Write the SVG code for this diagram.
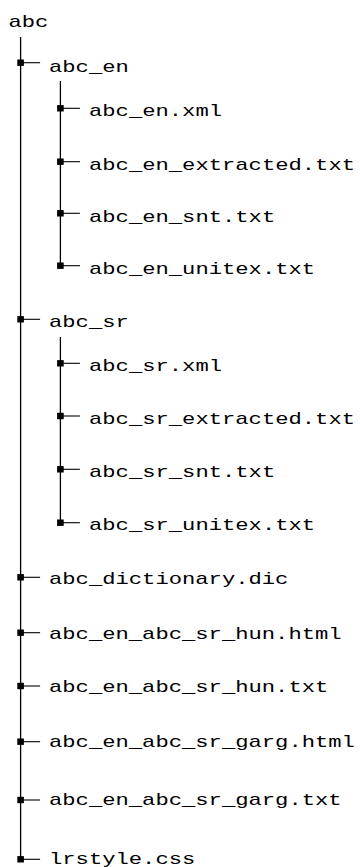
<svg xmlns="http://www.w3.org/2000/svg" width="360" height="867" viewBox="0 0 360 867">
  <style>
    .lbl { font-family: "Liberation Mono", "DejaVu Sans Mono", monospace; font-size: 17px; fill: #000; }
    .trunk { stroke: #000; stroke-width: 1.3; fill: none; }
    .twig { stroke: #000; stroke-width: 1.1; fill: none; }
    .knot { fill: #000; }
  </style>
  <defs>
    <!-- square knot where a branch leaves its trunk, plus the branch stub -->
    <g id="branch">
      <rect class="knot" x="-3.3" y="-3.2" width="6.6" height="6.4"/>
      <line class="twig" x1="0" y1="0" x2="19.5" y2="0"/>
    </g>
  </defs>

  <!-- connectors: trunks and branches -->
  <g id="connectors">
    <line class="trunk" x1="20.6" y1="37" x2="20.6" y2="860"/>
    <line class="trunk" x1="60.4" y1="81" x2="60.4" y2="266"/>
    <line class="trunk" x1="60.4" y1="337" x2="60.4" y2="523"/>

    <use href="#branch" x="20.6" y="62.7"/>
    <use href="#branch" x="60.4" y="108.3"/>
    <use href="#branch" x="60.4" y="161.7"/>
    <use href="#branch" x="60.4" y="213.3"/>
    <use href="#branch" x="60.4" y="265.7"/>
    <use href="#branch" x="20.6" y="319.3"/>
    <use href="#branch" x="60.4" y="363.3"/>
    <use href="#branch" x="60.4" y="416"/>
    <use href="#branch" x="60.4" y="469.3"/>
    <use href="#branch" x="60.4" y="522.7"/>
    <use href="#branch" x="20.6" y="577.3"/>
    <use href="#branch" x="20.6" y="632.7"/>
    <use href="#branch" x="20.6" y="686"/>
    <use href="#branch" x="20.6" y="741.7"/>
    <use href="#branch" x="20.6" y="800"/>
    <use href="#branch" x="20.6" y="859.3"/>
  </g>

  <!-- nodes -->
  <g id="root"><text class="lbl" x="8.5" y="26.7" textLength="39.9" lengthAdjust="spacingAndGlyphs">abc</text></g>

  <g id="abc_en"><text class="lbl" x="49" y="71.5" textLength="79.8" lengthAdjust="spacingAndGlyphs">abc_en</text></g>
  <g id="abc_en_xml"><text class="lbl" x="89" y="116.3" textLength="133" lengthAdjust="spacingAndGlyphs">abc_en.xml</text></g>
  <g id="abc_en_extracted"><text class="lbl" x="89" y="169.6" textLength="266" lengthAdjust="spacingAndGlyphs">abc_en_extracted.txt</text></g>
  <g id="abc_en_snt"><text class="lbl" x="89" y="221.5" textLength="186.2" lengthAdjust="spacingAndGlyphs">abc_en_snt.txt</text></g>
  <g id="abc_en_unitex"><text class="lbl" x="89" y="274" textLength="226.1" lengthAdjust="spacingAndGlyphs">abc_en_unitex.txt</text></g>

  <g id="abc_sr"><text class="lbl" x="49" y="327" textLength="79.8" lengthAdjust="spacingAndGlyphs">abc_sr</text></g>
  <g id="abc_sr_xml"><text class="lbl" x="89" y="371" textLength="133" lengthAdjust="spacingAndGlyphs">abc_sr.xml</text></g>
  <g id="abc_sr_extracted"><text class="lbl" x="89" y="423.5" textLength="266" lengthAdjust="spacingAndGlyphs">abc_sr_extracted.txt</text></g>
  <g id="abc_sr_snt"><text class="lbl" x="89" y="476.5" textLength="186.2" lengthAdjust="spacingAndGlyphs">abc_sr_snt.txt</text></g>
  <g id="abc_sr_unitex"><text class="lbl" x="89" y="529.5" textLength="226.1" lengthAdjust="spacingAndGlyphs">abc_sr_unitex.txt</text></g>

  <g id="abc_dictionary"><text class="lbl" x="49" y="583.5" textLength="239.4" lengthAdjust="spacingAndGlyphs">abc_dictionary.dic</text></g>
  <g id="hun_html"><text class="lbl" x="49" y="639" textLength="292.6" lengthAdjust="spacingAndGlyphs">abc_en_abc_sr_hun.html</text></g>
  <g id="hun_txt"><text class="lbl" x="49" y="692" textLength="279.3" lengthAdjust="spacingAndGlyphs">abc_en_abc_sr_hun.txt</text></g>
  <g id="garg_html"><text class="lbl" x="49" y="747.2" textLength="305.9" lengthAdjust="spacingAndGlyphs">abc_en_abc_sr_garg.html</text></g>
  <g id="garg_txt"><text class="lbl" x="49" y="805" textLength="292.6" lengthAdjust="spacingAndGlyphs">abc_en_abc_sr_garg.txt</text></g>
  <g id="lrstyle"><text class="lbl" x="49" y="863.5" textLength="146.3" lengthAdjust="spacingAndGlyphs">lrstyle.css</text></g>
</svg>
